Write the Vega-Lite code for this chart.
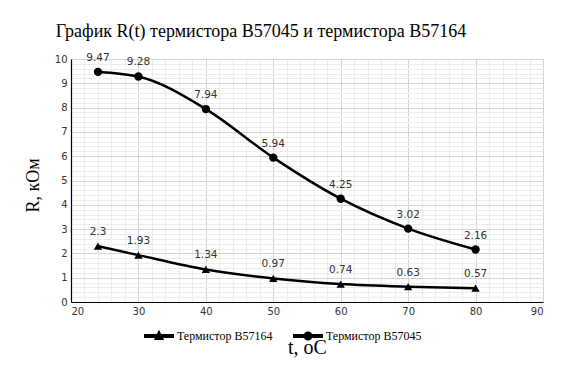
{
  "$schema": "https://vega.github.io/schema/vega-lite/v6.json",
  "width": 472,
  "height": 243,
  "autosize": "none",
  "padding": {"left": 71, "top": 59, "right": 24, "bottom": 76},
  "background": "white",
  "title": {"text": "График R(t) термистора B57045 и термистора B57164", "font": "Liberation Serif", "fontSize": 18, "fontWeight": "normal", "color": "#000", "dx": -46, "offset": 12},
  "config": {"view": {"stroke": null}},
  "data": {"values": [
    {"t": 24, "R": 2.3, "s": "Термистор B57164", "lbl": "2.3"},
    {"t": 30, "R": 1.93, "s": "Термистор B57164", "lbl": "1.93"},
    {"t": 40, "R": 1.34, "s": "Термистор B57164", "lbl": "1.34"},
    {"t": 50, "R": 0.97, "s": "Термистор B57164", "lbl": "0.97"},
    {"t": 60, "R": 0.74, "s": "Термистор B57164", "lbl": "0.74"},
    {"t": 70, "R": 0.63, "s": "Термистор B57164", "lbl": "0.63"},
    {"t": 80, "R": 0.57, "s": "Термистор B57164", "lbl": "0.57"},
    {"t": 24, "R": 9.47, "s": "Термистор B57045", "lbl": "9.47"},
    {"t": 30, "R": 9.28, "s": "Термистор B57045", "lbl": "9.28"},
    {"t": 40, "R": 7.94, "s": "Термистор B57045", "lbl": "7.94"},
    {"t": 50, "R": 5.94, "s": "Термистор B57045", "lbl": "5.94"},
    {"t": 60, "R": 4.25, "s": "Термистор B57045", "lbl": "4.25"},
    {"t": 70, "R": 3.02, "s": "Термистор B57045", "lbl": "3.02"},
    {"t": 80, "R": 2.16, "s": "Термистор B57045", "lbl": "2.16"}
  ]},
  "encoding": {
    "x": {"field": "t", "type": "quantitative", "scale": {"domain": [20, 90], "nice": false},
      "axis": {"values": [20,22,24,26,28,30,32,34,36,38,40,42,44,46,48,50,52,54,56,58,60,62,64,66,68,70,72,74,76,78,80,82,84,86,88,90],
        "format": "~g", "labelExpr": "datum.value % 10 === 0 ? datum.label : ''", "labelOverlap": false,
        "gridColor": {"condition": {"test": "datum.value % 10 === 0", "value": "#d4d4d4"}, "value": "#ececec"},
        "ticks": false, "domainColor": "#000", "domainWidth": 1.2, "labelFont": "DejaVu Sans", "labelFontSize": 10, "labelColor": "#333", "labelPadding": 4,
        "title": "t, оС", "titleFont": "Liberation Serif", "titleFontSize": 20, "titleFontWeight": "normal", "titleColor": "#000", "titleBaseline": "middle", "titleY": 45}},
    "y": {"field": "R", "type": "quantitative", "scale": {"domain": [0, 10], "nice": false},
      "axis": {"values": [0,0.2,0.4,0.6,0.8,1,1.2,1.4,1.6,1.8,2,2.2,2.4,2.6,2.8,3,3.2,3.4,3.6,3.8,4,4.2,4.4,4.6,4.8,5,5.2,5.4,5.6,5.8,6,6.2,6.4,6.6,6.8,7,7.2,7.4,7.6,7.8,8,8.2,8.4,8.6,8.8,9,9.2,9.4,9.6,9.8,10],
        "format": "~g", "labelExpr": "abs(datum.value - round(datum.value)) < 0.001 ? datum.label : ''", "labelOverlap": false,
        "gridColor": {"condition": {"test": "abs(datum.value - round(datum.value)) < 0.001", "value": "#d4d4d4"}, "value": "#ececec"},
        "ticks": false, "domainColor": "#000", "domainWidth": 1.2, "labelFont": "DejaVu Sans", "labelFontSize": 10, "labelColor": "#333", "labelPadding": 4,
        "title": "R, кОм", "titleFont": "Liberation Serif", "titleFontSize": 18, "titleFontWeight": "normal", "titleColor": "#000", "titleBaseline": "middle", "titleAngle": -90, "titleX": -38, "titleY": 126}}
  },
  "layer": [
    {"mark": {"type": "line", "interpolate": "monotone", "strokeWidth": 2.5},
      "encoding": {"color": {"field": "s", "type": "nominal", "scale": {"domain": ["Термистор B57164", "Термистор B57045"], "range": ["#000", "#000"]},
        "legend": {"orient": "none", "legendX": 73, "legendY": 262, "direction": "horizontal", "title": null,
          "labelFont": "Liberation Serif", "labelFontSize": 12, "labelColor": "#000", "symbolSize": 900, "symbolStrokeWidth": 0, "columnPadding": 20, "labelOffset": 3,
          "encode": {"symbols": {"update": {"shape": {"signal": "datum.value === 'Термистор B57164' ? 'M-1,-0.13H1V0.13H-1Z M0,-0.42L0.34,0.27L-0.34,0.27Z' : 'M-1,-0.13H1V0.13H-1Z M-0.3,0A0.3,0.3,0,1,1,0.3,0A0.3,0.3,0,1,1,-0.3,0Z'"}, "fill": {"value": "#000"}, "stroke": {"value": "#000"}, "strokeWidth": {"value": 0}}}}}}}},
    {"mark": {"type": "point", "filled": true, "size": 70, "opacity": 1, "color": "#000"},
      "encoding": {"shape": {"condition": {"test": "datum.s === 'Термистор B57164'", "value": "triangle-up"}, "value": "circle"}}},
    {"mark": {"type": "text", "dy": -14, "font": "DejaVu Sans", "fontSize": 10.5, "color": "#333"},
      "encoding": {"text": {"field": "lbl"}}}
  ]
}
